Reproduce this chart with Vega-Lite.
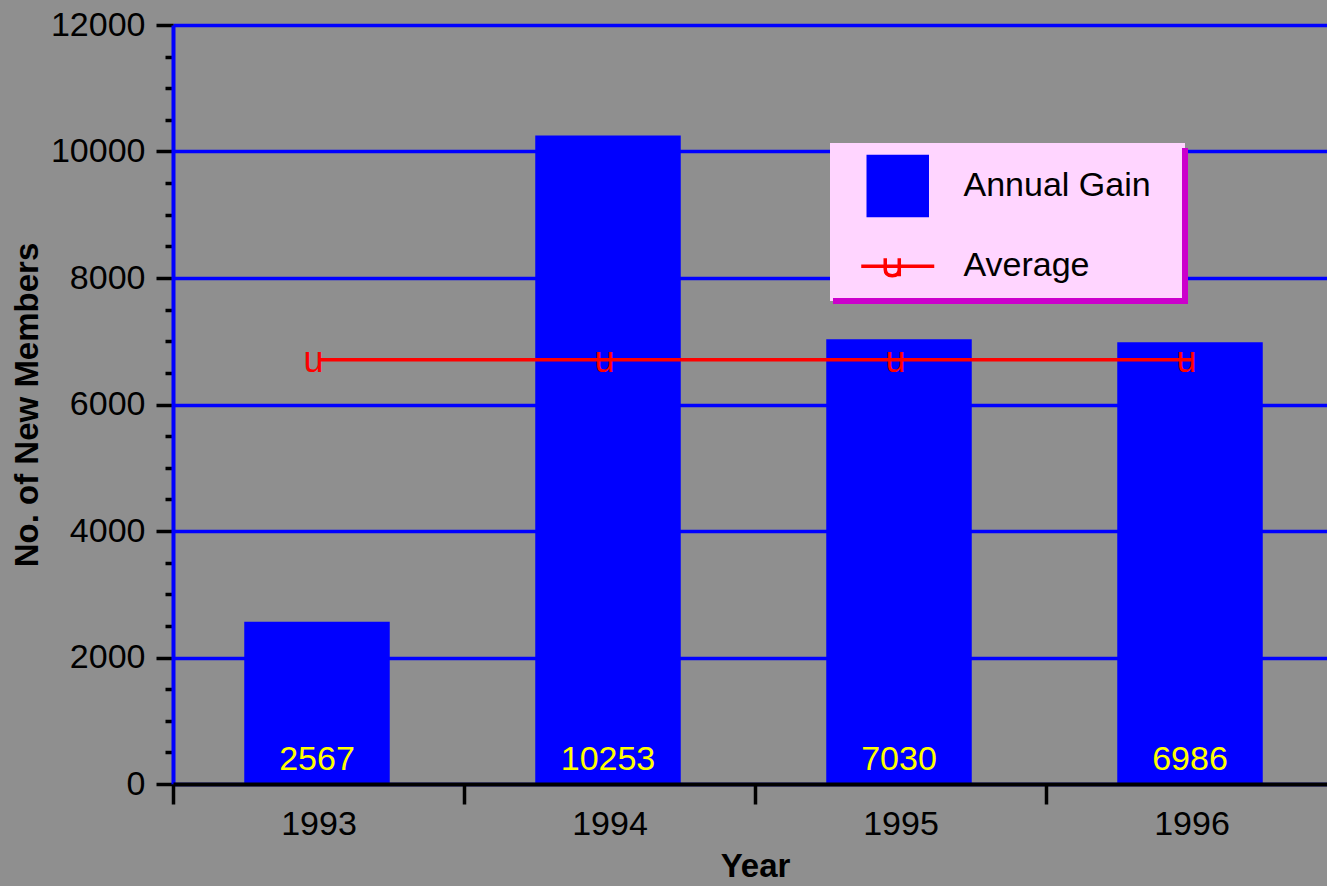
{
  "$schema": "https://vega.github.io/schema/vega-lite/v6.json",
  "width": 1164,
  "height": 759,
  "autosize": {"type": "none"},
  "padding": {"left": 173, "top": 25, "right": 0, "bottom": 102},
  "background": "#8f8f8f",
  "config": {
    "view": {"stroke": null, "fill": "#8f8f8f"},
    "font": "Liberation Sans"
  },
  "resolve": {"axis": {"y": "independent"}},
  "data": {
    "values": [
      {"year": "1993", "gain": 2567, "average": 6709},
      {"year": "1994", "gain": 10253, "average": 6709},
      {"year": "1995", "gain": 7030, "average": 6709},
      {"year": "1996", "gain": 6986, "average": 6709}
    ]
  },
  "encoding": {
    "x": {
      "field": "year",
      "type": "nominal",
      "scale": {"paddingInner": 0, "paddingOuter": 0},
      "axis": {
        "title": "Year",
        "titleFontSize": 33,
        "titleFontWeight": "bold",
        "titleColor": "black",
        "titlePadding": 9,
        "labelAngle": 0,
        "labelFontSize": 34,
        "labelColor": "black",
        "labelPadding": 3,
        "tickBand": "extent",
        "tickSize": 20,
        "tickWidth": 3.5,
        "tickColor": "black",
        "domainColor": "black",
        "domainWidth": 4,
        "grid": false,
        "zindex": 1
      }
    }
  },
  "layer": [
    {
      "mark": {"type": "bar", "width": {"band": 0.5}, "xOffset": -1.5},
      "encoding": {
        "y": {
          "field": "gain",
          "type": "quantitative",
          "scale": {"domain": [0, 12000], "nice": false},
          "axis": {
            "title": "No. of New Members",
            "titleFontSize": 33,
            "titleFontWeight": "bold",
            "titleColor": "black",
            "titlePadding": 6,
            "values": [0, 500, 1000, 1500, 2000, 2500, 3000, 3500, 4000, 4500, 5000, 5500, 6000, 6500, 7000, 7500, 8000, 8500, 9000, 9500, 10000, 10500, 11000, 11500, 12000],
            "format": "d",
            "labelExpr": "datum.value % 2000 === 0 ? datum.label : ''",
            "labelOverlap": false,
            "labelFontSize": 34,
            "labelColor": "black",
            "labelPadding": 11,
            "tickSize": {"condition": {"test": "datum.value % 2000 === 0", "value": 17}, "value": 8},
            "tickWidth": 3.5,
            "tickColor": "black",
            "domainColor": "#0000ff",
            "domainWidth": 4,
            "grid": true,
            "gridColor": "#0000ff",
            "gridWidth": 3.5,
            "gridOpacity": {"condition": {"test": "datum.value % 2000 === 0", "value": 1}, "value": 0}
          }
        },
        "color": {
          "datum": "Annual Gain",
          "scale": {"domain": ["Annual Gain", "Average"], "range": ["#0000ff", "#ff0000"]},
          "legend": {
            "title": null,
            "orient": "none",
            "legendX": 657,
            "legendY": 118,
            "fillColor": "#ffd5ff",
            "padding": 10,
            "labelFontSize": 34,
            "labelColor": "black",
            "labelLimit": 500,
            "symbolSize": 3721,
            "symbolStrokeWidth": 3.5,
            "symbolOffset": 25.25,
            "labelOffset": 33.25,
            "rowPadding": 10.25,
            "encode": {
              "legend": {
                "update": {
                  "stroke": {"value": "#cc00cc"},
                  "strokeWidth": {"value": 6},
                  "strokeDash": {"value": [0, 360, 505, 165]}
                }
              },
              "labels": {
                "update": {
                  "y": {"value": 33}
                }
              },
              "symbols": {
                "update": {
                  "y": {"value": 33},
                  "shape": {"signal": "datum.value === 'Average' ? 'M-1.197,0H1.197M-0.41,-0.26V0.1Q-0.41,0.31 -0.18,0.31Q0.05,0.31 0.05,0.1M0.05,-0.26V0.33M0,0.58' : 'M-0.967,-0.967H0.967V0.967H-0.967ZM8.843,0'"},
                  "fill": {"signal": "datum.value === 'Average' ? 'transparent' : '#0000ff'"},
                  "fillOpacity": {"signal": "datum.value === 'Average' ? 0 : 1"},
                  "stroke": {"signal": "datum.value === 'Average' ? '#ff0000' : 'transparent'"},
                  "strokeWidth": {"value": 3.5},
                  "size": {"value": 3721},
                  "opacity": {"value": 1}
                }
              }
            }
          }
        }
      }
    },
    {
      "mark": {"type": "text", "fontSize": 34, "color": "#ffff00", "baseline": "alphabetic", "dy": -14, "xOffset": -1.5},
      "encoding": {
        "y": {"datum": 0, "type": "quantitative", "axis": null},
        "text": {"field": "gain", "type": "quantitative", "format": "d"}
      }
    },
    {
      "mark": {"type": "line", "strokeWidth": 3.5},
      "encoding": {
        "y": {"field": "average", "type": "quantitative", "axis": null},
        "color": {"datum": "Average"}
      }
    },
    {
      "mark": {"type": "text", "text": "u", "fontSize": 36, "color": "#ff0000", "baseline": "alphabetic", "dx": -5, "dy": 12},
      "encoding": {
        "y": {"field": "average", "type": "quantitative", "axis": null}
      }
    }
  ]
}
